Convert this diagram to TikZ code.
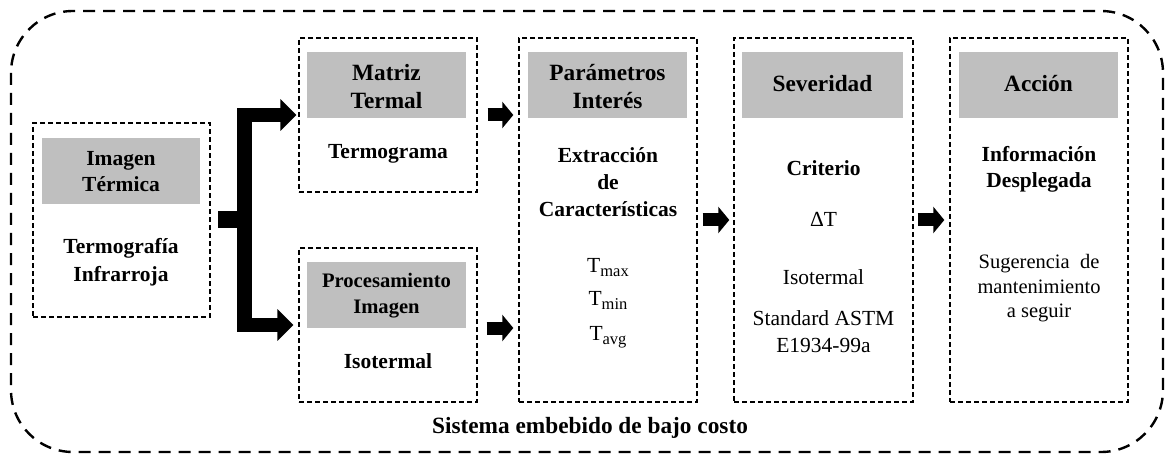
\documentclass[tikz,border=0pt]{standalone}
\usepackage{fontspec}
\setmainfont{Liberation Serif}
\usetikzlibrary{arrows.meta,calc}
\definecolor{hdr}{RGB}{191,191,191}
\newcommand{\Tsub}[1]{T\raisebox{-4.5pt}{\fontsize{16.5}{16.5}\selectfont #1}}
\begin{document}
\begin{tikzpicture}[x=1pt,y=-1pt,
  box/.style={draw, dash pattern=on 5pt off 3pt, line width=1.4pt, inner sep=0pt},
  hdrbox/.style={fill=hdr, inner sep=0pt, minimum height=66pt},
  bth/.style={font=\bfseries\fontsize{23.3}{27}\selectfont, anchor=base, inner sep=0pt},
  bt/.style={font=\bfseries\fontsize{21.5}{27}\selectfont, anchor=base, inner sep=0pt},
  bts/.style={font=\bfseries\fontsize{20.6}{26}\selectfont, anchor=base, inner sep=0pt},
  nt/.style={font=\fontsize{21.5}{27}\selectfont, anchor=base, inner sep=0pt},
  st/.style={font=\fontsize{20.5}{24}\selectfont, anchor=base, inner sep=0pt},
  smallarrow/.style={line width=13pt, -{Triangle[length=11pt,width=26pt]}},
  forkarrow/.style={line width=14pt, -{Triangle[length=16pt,width=31pt]}}]
\useasboundingbox (0,0) rectangle (1167,457);

% outer system frame
\draw[line width=2.4pt, dash pattern=on 12pt off 8pt, rounded corners=62pt] (11,11) rectangle (1163,452);

% boxes
\node[box, minimum width=177pt, minimum height=194pt] (b1) at (121.5,220) {};
\node[box, minimum width=178pt, minimum height=154pt] (b2) at (388,115) {};
\node[box, minimum width=178pt, minimum height=154pt] (b3) at (388,325) {};
\node[box, minimum width=178pt, minimum height=364pt] (b4) at (608,220) {};
\node[box, minimum width=179pt, minimum height=364pt] (b5) at (823.5,220) {};
\node[box, minimum width=178pt, minimum height=364pt] (b6) at (1039,220) {};

% headers
\node[hdrbox, minimum width=158pt] (h1) at (121,171) {};
\node[hdrbox, minimum width=159pt] (h2) at (386.5,85) {};
\node[hdrbox, minimum width=159pt] (h3) at (386.5,295) {};
\node[hdrbox, minimum width=159pt] (h4) at (607.5,85) {};
\node[hdrbox, minimum width=161pt] (h5) at (822.5,85) {};
\node[hdrbox, minimum width=159pt] (h6) at (1038.5,85) {};

% box 1
\node[bt] (t1a) at (121,166) {Imagen};
\node[bt] (t1b) at (121,192) {Térmica};
\node[bt] (t1c) at (121,254) {Termografía};
\node[bt] (t1d) at (121,281) {Infrarroja};
% box 2
\node[bth] (t2a) at (386.5,81) {Matriz};
\node[bth] (t2b) at (386.5,109) {Termal};
\node[bt] (t2c) at (388,159) {Termograma};
% box 3
\node[bts] (t3a) at (386.5,287) {Procesamiento};
\node[bts] (t3b) at (386.5,313) {Imagen};
\node[bt] (t3c) at (388,368) {Isotermal};
% box 4
\node[bth] (t4a) at (607.5,81) {Parámetros};
\node[bth] (t4b) at (607.5,109) {Interés};
\node[bt] (t4c) at (608,163) {Extracción};
\node[bt] (t4d) at (608,190) {de};
\node[bt] (t4e) at (608,217) {Características};
\node[nt] (t4f) at (608,272) {\Tsub{max}};
\node[nt] (t4g) at (608,305) {\Tsub{min}};
\node[nt] (t4h) at (608,340) {\Tsub{avg}};
% box 5
\node[bth] (t5a) at (822.5,92) {Severidad};
\node[bt] (t5b) at (823.5,176) {Criterio};
\node[nt] (t5c) at (823.5,226) {ΔT};
\node[nt] (t5d) at (823.5,284) {Isotermal};
\node[nt] (t5e) at (823.5,325) {Standard ASTM};
\node[nt] (t5f) at (823.5,352) {E1934-99a};
% box 6
\node[bth] (t6a) at (1038.5,92) {Acción};
\node[bt] (t6b) at (1039,162) {Información};
\node[bt] (t6c) at (1039,188) {Desplegada};
\node[st] (t6d) at (1039,268) {Sugerencia\ \ de};
\node[st] (t6e) at (1039,293) {mantenimiento};
\node[st] (t6f) at (1039,317) {a seguir};

% system label
\node[bth] (sys) at (590,433) {Sistema embebido de bajo costo};

% fork arrow from b1 to b2 and b3
\coordinate (fk) at (245.5,220);
\fill ($(b1.east)+(7,-8.5)$) rectangle ($(fk)+(0,8.5)$);
\fill ($(b2.west)+(-61,-7)$) rectangle ($(b3.west)+(-46,7)$);
\draw[forkarrow] ($(b2.west)+(-54,0)$) -- ([xshift=-2pt]b2.west);
\draw[forkarrow] ($(b3.west)+(-54,0)$) -- ([xshift=-5pt]b3.west);

% small arrows
\draw[smallarrow] ([xshift=10pt]b2.east) -- ([xshift=-5pt]b4.west |- b2.east);
\draw[smallarrow] ([xshift=9pt,yshift=-3pt]b3.east) -- ([xshift=-5pt,yshift=-3pt]b4.west |- b3.east);
\draw[smallarrow] ([xshift=5pt]b4.east) -- ([xshift=-4pt]b5.west);
\draw[smallarrow] ([xshift=4pt]b5.east) -- ([xshift=-5pt]b6.west);
\end{tikzpicture}
\end{document}
